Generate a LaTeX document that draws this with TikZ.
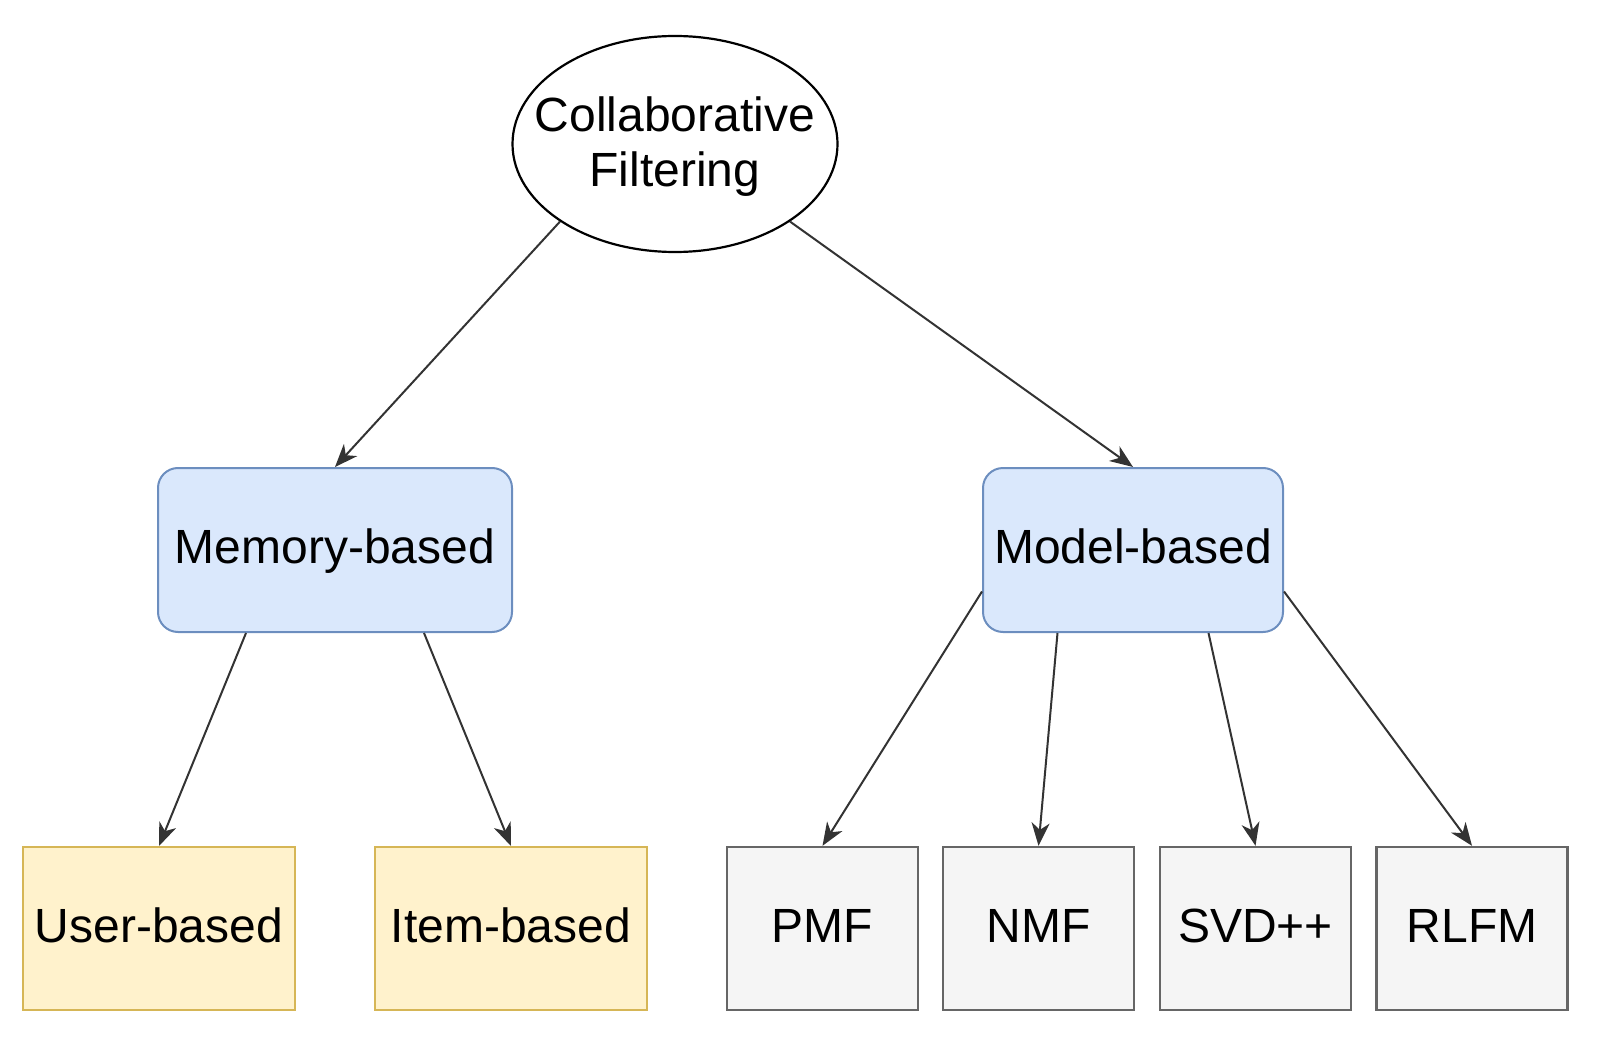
\documentclass[tikz,border=0pt]{standalone}
\usepackage{fontspec}
\setmainfont{Liberation Sans}
\usetikzlibrary{arrows.meta,shapes.geometric,calc}
\definecolor{blueF}{HTML}{DAE8FC}
\definecolor{blueD}{HTML}{6C8EBF}
\definecolor{yelF}{HTML}{FFF2CC}
\definecolor{yelD}{HTML}{D6B656}
\definecolor{grayF}{HTML}{F5F5F5}
\definecolor{grayD}{HTML}{666666}
\definecolor{edgeC}{HTML}{333333}
\tikzset{
  x=1pt, y=1pt,
  base/.style={inner sep=0pt, line width=2pt, align=center, font=\fontsize{48}{55}\selectfont},
  oneline/.style={text height=34.4pt, text depth=7pt},
  topnode/.style={ellipse, draw=black, line width=2.2pt, fill=white, minimum width=325pt, minimum height=216pt, inner sep=0pt},
  toptext/.style={base, yshift=-3pt},
  midbox/.style={base, oneline, rectangle, rounded corners=20pt, draw=blueD, fill=blueF, minimum height=164pt},
  leafY/.style={base, oneline, rectangle, draw=yelD, fill=yelF, minimum width=272pt, minimum height=163pt},
  leafG/.style={base, oneline, rectangle, draw=grayD, fill=grayF, line width=2.4pt, minimum width=191pt, minimum height=163pt},
  conn/.style={draw=edgeC, line width=2pt, -{Stealth[length=23pt, width=18pt, inset=7pt]}},
}
\begin{document}
\begin{tikzpicture}
\useasboundingbox (0,0) rectangle (1602,-1040);
\node[topnode] (cf) at (675,-144) {};
\node[toptext] (cflabel) at (cf.center) {Collaborative\\Filtering};
\node[midbox, minimum width=354pt] (mem) at (335,-550) {Memory-based};
\node[midbox, minimum width=300pt] (model) at (1133,-550) {Model-based};
\node[leafY] (user) at (159,-928.5) {User-based};
\node[leafY] (item) at (511,-928.5) {Item-based};
\node[leafG] (pmf) at (822.5,-928.5) {PMF};
\node[leafG] (nmf) at (1038.5,-928.5) {NMF};
\node[leafG] (svd) at (1255.5,-928.5) {SVD++};
\node[leafG] (rlfm) at (1472,-928.5) {RLFM};

\coordinate (m1) at ($(mem.south west)!0.25!(mem.south east)$);
\coordinate (m2) at ($(mem.south west)!0.75!(mem.south east)$);
\coordinate (d1) at ($(model.north west)!0.75!(model.south west)$);
\coordinate (d2) at ($(model.south west)!0.25!(model.south east)$);
\coordinate (d3) at ($(model.south west)!0.75!(model.south east)$);
\coordinate (d4) at ($(model.north east)!0.75!(model.south east)$);

\draw[conn] (cf.214) -- (mem.north);
\draw[conn] (cf.326) -- (model.north);
\draw[conn] (m1) -- (user.north);
\draw[conn] (m2) -- (item.north);
\draw[conn] (d1) -- (pmf.north);
\draw[conn] (d2) -- (nmf.north);
\draw[conn] (d3) -- (svd.north);
\draw[conn] (d4) -- (rlfm.north);
\end{tikzpicture}
\end{document}
